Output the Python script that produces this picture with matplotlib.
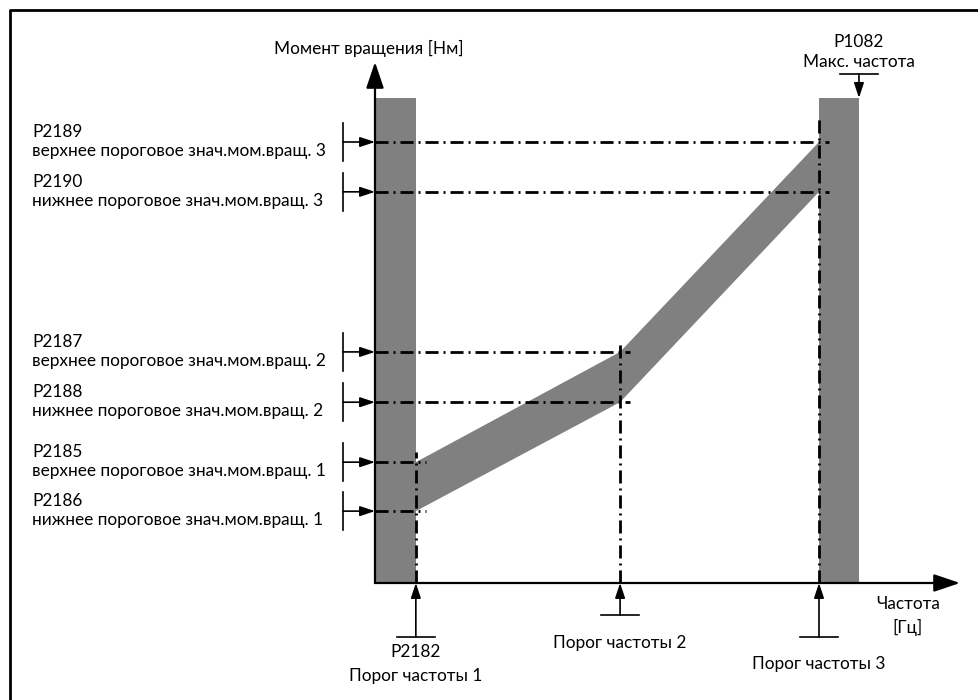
import matplotlib
matplotlib.use("Agg")
import matplotlib.pyplot as plt
from matplotlib.lines import Line2D

plt.rcParams["font.family"] = ["Lato", "DejaVu Sans"]

# ===== DATA (diagram units: frequency 0..100 = threshold 3, torque 0..100 = upper level 3) =====
freq_thresholds = [9.2, 55.2, 100.0]        # P2182, threshold 2, threshold 3
freq_max = 109.0                            # P1082
torque_upper = [27.4, 52.4, 100.0]          # P2185, P2187, P2189
torque_lower = [16.3, 41.0, 88.7]           # P2186, P2188, P2190
band_top = 110.0

upper_codes = ["P2185", "P2187", "P2189"]
lower_codes = ["P2186", "P2188", "P2190"]
upper_texts = ["верхнее пороговое знач.мом.вращ. %d" % i for i in (1, 2, 3)]
lower_texts = ["нижнее пороговое знач.мом.вращ. %d" % i for i in (1, 2, 3)]
freq_labels = [["P2182", "Порог частоты 1"], ["Порог частоты 2"], ["Порог частоты 3"]]

# ===== LAYOUT =====
W, H = 979, 700
X0, Y0 = 375, 583          # origin in pixels
PX_X, PX_Y = 4.44, 4.41    # pixels per unit


def dx(px):
    return px / PX_X


def dy(px):
    return px / PX_Y


fig = plt.figure(figsize=(W / 100, H / 100), dpi=100)
ax = fig.add_axes([0, 0, 1, 1])
ax.set_xlim(-X0 / PX_X, (W - X0) / PX_X)
ax.set_ylim(-(H - Y0) / PX_Y, Y0 / PX_Y)
ax.axis("off")

grey = "#808080"
fs = 12.4
dashdot = (0, (4.7, 1.8, 0.7, 1.8))

# frame (left and top edge only, picture is cropped)
fig.add_artist(Line2D([10 / W, 10 / W, 1], [0, 1 - 10 / H, 1 - 10 / H],
                      transform=fig.transFigure, color="black", lw=2))

# grey bands
ax.fill_between([0, freq_thresholds[0]], 0, band_top, color=grey, lw=0, zorder=1)
ax.fill_between([freq_thresholds[2], freq_max], 0, band_top, color=grey, lw=0, zorder=1)
band_x = freq_thresholds + freq_thresholds[::-1]
band_y = torque_upper + torque_lower[::-1]
ax.fill(band_x, band_y, color=grey, lw=0, zorder=1)

# axes with arrows
ax_head = dict(arrowstyle="-|>,head_length=0.8,head_width=0.27", color="black",
               lw=1.6, mutation_scale=20, shrinkA=0, shrinkB=0)
ax.annotate("", xy=(0, dy(Y0 - 62)), xytext=(0, 0), arrowprops=ax_head, zorder=4)
ax.annotate("", xy=(dx(960 - X0), 0), xytext=(0, 0), arrowprops=ax_head, zorder=4)

# dash-dot guide lines
for f, up, lo in zip(freq_thresholds, torque_upper, torque_lower):
    for lev in (up, lo):
        ax.plot([0, f + dx(10)], [lev, lev], color="black", lw=2.0,
                linestyle=dashdot, zorder=3)
overshoot = [dy(10), dy(10), dy(24)]
for f, up, ov in zip(freq_thresholds, torque_upper, overshoot):
    ax.plot([f, f], [0, up + ov], color="black", lw=2.0, linestyle=dashdot, zorder=3)

# small marker arrows
mk_head = dict(arrowstyle="-|>,head_length=0.9,head_width=0.3", color="black",
               lw=1.2, mutation_scale=10, shrinkA=0, shrinkB=0)
tee_x = dx(343 - X0)
for code, text, lev in zip(upper_codes + lower_codes, upper_texts + lower_texts,
                           torque_upper + torque_lower):
    ax.plot([tee_x, tee_x], [lev - dy(19), lev + dy(19)], color="black", lw=1.2)
    ax.annotate("", xy=(0, lev), xytext=(tee_x, lev), arrowprops=mk_head, zorder=5)
    ax.text(dx(32 - X0), lev + dy(10), code, fontsize=fs, ha="left", va="center")
    ax.text(dx(32 - X0), lev - dy(9), text, fontsize=fs, ha="left", va="center")

# frequency markers below the axis
tee_depth = [54, 32, 54]
label_rows = [[69, 93], [60], [81]]
for f, depth, labels, rows in zip(freq_thresholds, tee_depth, freq_labels, label_rows):
    ax.plot([f - dx(19), f + dx(19)], [-dy(depth)] * 2, color="black", lw=1.2)
    ax.annotate("", xy=(f, 0), xytext=(f, -dy(depth)), arrowprops=mk_head, zorder=5)
    for lab, r in zip(labels, rows):
        ax.text(f, -dy(r), lab, fontsize=fs, ha="center", va="center")

# max frequency marker
ax.plot([freq_max - dx(19), freq_max + dx(19)], [band_top + dy(24)] * 2,
        color="black", lw=1.2)
ax.annotate("", xy=(freq_max, band_top), xytext=(freq_max, band_top + dy(24)),
            arrowprops=mk_head, zorder=5)
ax.text(freq_max, band_top + dy(56), "P1082", fontsize=fs, ha="center", va="center")
ax.text(freq_max, band_top + dy(36), "Макс. частота", fontsize=fs, ha="center", va="center")

# axis titles
ax.text(-dx(6), dy(Y0 - 48), "Момент вращения [Нм]", fontsize=fs, ha="center", va="center")
ax.text(dx(908 - X0), -dy(604 - Y0), "Частота", fontsize=fs, ha="center", va="center")
ax.text(dx(908 - X0), -dy(627 - Y0), "[Гц]", fontsize=fs, ha="center", va="center")

fig.savefig("out.png", dpi=100, facecolor="white")
